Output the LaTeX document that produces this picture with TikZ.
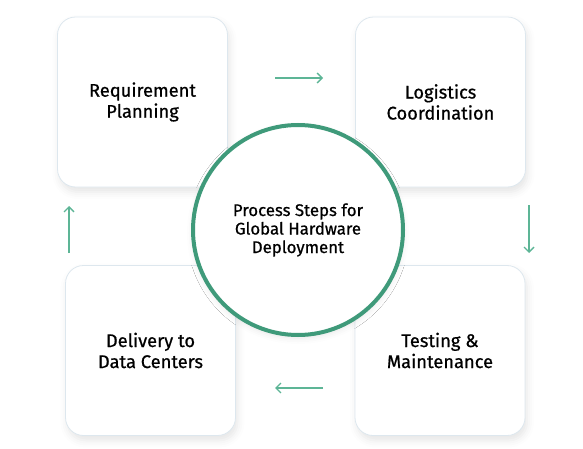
\documentclass[tikz,border=0pt]{standalone}
\usepackage{fontspec}
\setmainfont{Fira Sans}
\newfontfamily\cardfont{Fira Sans}[FakeBold=0.7]
\usetikzlibrary{arrows.meta, shadows.blur}

\definecolor{ringgreen}{HTML}{3F9A7A}
\definecolor{flowgreen}{HTML}{5DB596}
\definecolor{cardline}{HTML}{DDE7EE}

\tikzset{
    stepcard/.style={draw=cardline, line width=0.8pt, fill=white, rounded corners=18pt,
        minimum width=170pt, minimum height=170pt, align=center,
        font=\cardfont\fontsize{18.3}{21}\selectfont,
        blur shadow={shadow xshift=2pt, shadow yshift=-5pt, shadow blur radius=7pt,
            shadow opacity=10}},
    corering/.style={circle, draw=ringgreen, line width=4pt, fill=white,
        minimum size=210pt, align=center, font=\cardfont\fontsize{16.8}{18.5}\selectfont,
        blur shadow={shadow xshift=0pt, shadow yshift=-3pt, shadow blur radius=6pt,
            shadow opacity=10}},
    flow/.style={draw=flowgreen, line width=1.4pt, -{Straight Barb[length=5pt, width=10pt]}}
}

\begin{document}
\begin{tikzpicture}[x=1pt, y=-1pt]
    \useasboundingbox (0,0) rectangle (583,449);

    % Step cards
    \node[stepcard] (req)   at (142.5,102)   {Requirement\\Planning};
    \node[stepcard] (logi)  at (440.5,102)   {Logistics\\Coordination};
    \node[stepcard] (deliv) at (150.5,350.5) {Delivery to\\Data Centers};
    \node[stepcard] (test)  at (440,350.5)   {Testing \&\\Maintenance};

    % Centre ring
    \node[corering] (core) at (298,230) {Process Steps for\\Global Hardware\\Deployment};

    % Arrow ends
    \coordinate (a1) at (275,78);  \coordinate (a2) at (323,78);
    \coordinate (b1) at (529,205); \coordinate (b2) at (529,253);
    \coordinate (c1) at (323,388); \coordinate (c2) at (275,388);
    \coordinate (d1) at (69,253);  \coordinate (d2) at (69,206);

    % Flow arrows
    \draw[flow] (a1) -- (a2);
    \draw[flow] (b1) -- (b2);
    \draw[flow] (c1) -- (c2);
    \draw[flow] (d1) -- (d2);
\end{tikzpicture}
\end{document}
